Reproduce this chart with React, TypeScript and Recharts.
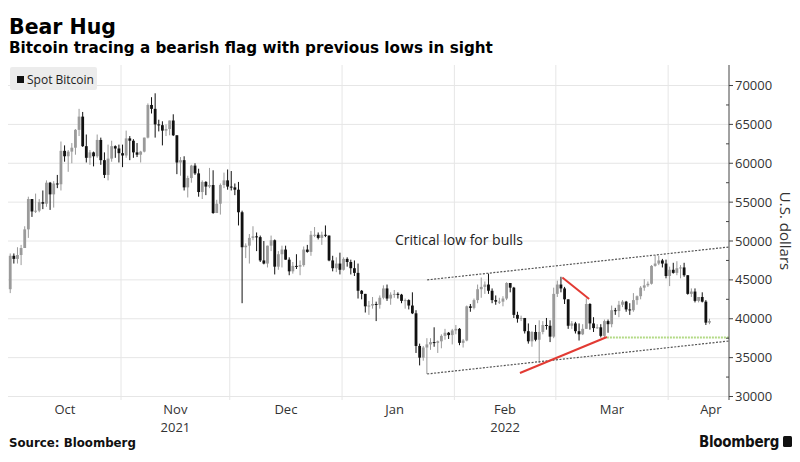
import React from "react";
import {
  ComposedChart,
  Bar,
  XAxis,
  YAxis,
  CartesianGrid,
  ReferenceLine,
  ReferenceDot,
} from "recharts";

// daily candles [open, high, low, close], starting Oct 1 2021
const OCT_2021 = [
  [43800, 48400, 43300, 48100], [48100, 48400, 47100, 47700], [47700, 49200, 47100, 48200],
  [48200, 49500, 46900, 49100], [49100, 51900, 49100, 51500], [51500, 55700, 50400, 55400],
  [55400, 55400, 53100, 53800], [53800, 56100, 53600, 53900], [53900, 55400, 53700, 55000],
  [55000, 56500, 54100, 54800], [54800, 57800, 54400, 57500], [57500, 57600, 54000, 56000],
  [56000, 57700, 54300, 57400], [57400, 58500, 56800, 57300], [57300, 62800, 56500, 61600],
  [61600, 62300, 60200, 60900], [60900, 61700, 58900, 61500], [61500, 62600, 60000, 62000],
  [62000, 64400, 61100, 64300], [64300, 67000, 63500, 66000], [66000, 66600, 62100, 62200],
  [62200, 63700, 60100, 60700], [60700, 61700, 59800, 61400], [61400, 61500, 59600, 60900],
  [60900, 63700, 60700, 63000], [63000, 63300, 59800, 60400], [60400, 61400, 58100, 58500],
  [58500, 62400, 57800, 60600], [60600, 62900, 60200, 62200], [62200, 62300, 60700, 61900],
  [61900, 62400, 60100, 61300],
];
const NOV_2021 = [
  [61300, 62400, 59500, 61000], [61000, 64200, 60700, 63200], [63200, 63500, 60400, 62900],
  [62900, 63100, 60700, 61400], [61400, 62600, 60800, 61100], [61100, 61600, 60100, 61500],
  [61500, 63300, 61400, 63300], [63300, 67700, 63200, 67500], [67500, 68500, 66400, 67000],
  [67000, 69000, 63300, 65000], [65000, 65600, 64100, 64900], [64900, 65400, 62300, 64200],
  [64200, 65000, 63500, 64400], [64400, 65500, 63600, 65500], [65500, 66300, 63500, 63600],
  [63600, 63600, 58600, 60100], [60100, 60800, 58400, 60400], [60400, 60900, 56500, 56900],
  [56900, 58400, 55600, 58100], [58100, 59800, 57500, 59700], [59700, 60000, 58500, 58700],
  [58700, 59300, 55700, 56300], [56300, 57800, 55400, 57600], [57600, 57700, 55900, 57000],
  [57000, 59400, 56800, 57200], [57200, 59100, 53500, 53600], [53600, 55300, 53600, 54800],
  [54800, 57400, 53400, 57200], [57200, 58800, 56800, 57800], [57800, 59200, 56600, 57000],
];
const DEC_2021 = [
  [57000, 59000, 56500, 56900], [56900, 57400, 55900, 56600], [56600, 57600, 52000, 53700],
  [53700, 53900, 42000, 49200], [49200, 49700, 47800, 49400], [49400, 50900, 47100, 50400],
  [50400, 51900, 50100, 50600], [50600, 51100, 48700, 50500], [50500, 50700, 47300, 47500],
  [47500, 50000, 47000, 47100], [47100, 49400, 46600, 49400], [49400, 50700, 48700, 50100],
  [50100, 50200, 45700, 46700], [46700, 48700, 46300, 48300], [48300, 49400, 46600, 48900],
  [48900, 49400, 47600, 47600], [47600, 47900, 45600, 46100], [46100, 47300, 45800, 46800],
  [46800, 48300, 46400, 46700], [46700, 47500, 45600, 46900], [46900, 49300, 46700, 48900],
  [48900, 49500, 48500, 48600], [48600, 51300, 48100, 50800], [50800, 51800, 50500, 50800],
  [50800, 51100, 50200, 50400], [50400, 51200, 49500, 50800], [50800, 52000, 50500, 50700],
  [50700, 50700, 47400, 47500], [47500, 48100, 46100, 46500], [46500, 47900, 46000, 47100],
  [47100, 48500, 45700, 46300],
];
const JAN_2022 = [
  [46300, 47900, 46200, 47700], [47700, 47900, 46700, 47300], [47300, 47600, 45700, 46500],
  [46500, 47500, 45500, 45900], [45900, 47100, 42600, 43600], [43600, 43700, 42500, 43200],
  [43200, 43200, 40800, 41600], [41600, 42300, 40500, 41700], [41700, 42800, 41300, 41900],
  [41900, 42200, 39700, 41800], [41800, 43000, 41300, 42700], [42700, 44300, 42500, 43900],
  [43900, 44400, 42300, 42600], [42600, 43400, 41800, 43100], [43100, 43700, 42700, 43200],
  [43200, 43400, 42600, 43100], [43100, 43200, 42000, 42300], [42300, 42600, 41300, 42400],
  [42400, 42500, 41200, 41700], [41700, 43400, 40600, 40700], [40700, 41100, 35600, 36500],
  [36500, 36800, 34000, 35000], [35000, 36500, 34600, 36300], [36300, 37500, 32900, 36700],
  [36700, 37500, 36000, 37000], [37000, 38900, 36400, 36900], [36900, 37200, 35600, 37100],
  [37100, 38000, 36200, 37800], [37800, 38700, 37300, 38200], [38200, 38300, 37400, 37900],
  [37900, 38700, 36700, 38500],
];
const FEB_2022 = [
  [38500, 39200, 38000, 38700], [38700, 38800, 36600, 36900], [36900, 37400, 36300, 37200],
  [37200, 41700, 37100, 41600], [41600, 41900, 40900, 41400], [41400, 42600, 41200, 42400],
  [42400, 44400, 42000, 43800], [43800, 45300, 42700, 44100], [44100, 44800, 43200, 44400],
  [44400, 45800, 43200, 43600], [43600, 43900, 42000, 42400], [42400, 43000, 41800, 42200],
  [42200, 42700, 41900, 42200], [42200, 42900, 41600, 42600], [42600, 44700, 42400, 44600],
  [44600, 44600, 43400, 44000], [44000, 44100, 40100, 40500], [40500, 40900, 39500, 40000],
  [40000, 40400, 39700, 40100], [40100, 40100, 38100, 38400], [38400, 39400, 36800, 37100],
  [37100, 38400, 36400, 38300], [38300, 39200, 37100, 37300], [37300, 39800, 34300, 38300],
  [38300, 39700, 38000, 39200], [39200, 40100, 38600, 39100], [39100, 39800, 37000, 37700],
  [37700, 44000, 37500, 43200],
];
const MAR_2022 = [
  [43200, 44900, 42800, 44400], [44400, 45400, 43400, 43900], [43900, 44100, 41900, 42500],
  [42500, 42500, 38700, 39100], [39100, 39700, 38700, 39400], [39400, 39600, 38100, 38400],
  [38400, 39400, 37200, 38000], [38000, 39300, 37900, 38700], [38700, 42600, 38700, 41900],
  [41900, 42000, 38600, 39400], [39400, 40200, 38300, 38800], [38800, 39300, 38700, 38900],
  [38900, 39300, 37600, 37800], [37800, 39900, 37600, 39700], [39700, 39900, 38200, 39300],
  [39300, 41700, 38900, 41100], [41100, 41400, 40500, 41000], [41000, 42300, 40200, 41800],
  [41800, 42400, 41500, 42200], [42200, 42300, 40900, 41200], [41200, 42000, 40500, 41100],
  [41100, 43300, 40900, 42400], [42400, 43000, 41800, 42900], [42900, 44200, 42500, 44000],
  [44000, 45100, 43600, 44300], [44300, 44800, 44100, 44500], [44500, 46900, 44400, 46800],
  [46800, 48200, 46700, 47100], [47100, 48100, 46900, 47500], [47500, 47700, 46600, 47100],
  [47100, 47600, 45200, 45500],
];
const APR_2022 = [
  [45500, 46700, 44200, 46300], [46300, 47200, 45800, 45900], [45900, 47400, 45600, 46500],
  [46500, 46900, 45200, 46600], [46600, 47200, 45400, 45600], [45600, 45600, 43100, 43200],
  [43200, 43900, 42800, 43500], [43500, 43900, 42100, 42300], [42300, 42800, 42100, 42800],
  [42800, 43400, 42100, 42200], [42200, 42400, 39200, 39500], [39500, 40000, 39300, 39700],
];

const MONTHS = [OCT_2021, NOV_2021, DEC_2021, JAN_2022, FEB_2022, MAR_2022, APR_2022];

// x-axis: day index from Oct 1 2021
const MONTH_LABELS = ["Oct", "Nov", "Dec", "Jan", "Feb", "Mar", "Apr"];
const YEAR_LABELS = ["", "2021", "", "", "2022", "", ""];
const MONTH_LABEL_DAYS = [15, 45.5, 76, 106, 136.5, 166, 193.3];
const MONTH_STARTS = [30.5, 60.5, 91.5, 122.5, 150.5, 181.5];
const PRICE_TICKS = [
  30000, 32500, 35000, 37500, 40000, 42500, 45000, 47500, 50000,
  52500, 55000, 57500, 60000, 62500, 65000, 67500, 70000,
];
const PRICE_GRID = [30000, 35000, 40000, 45000, 50000, 55000, 60000, 65000, 70000];

// annotations, [day, price]
const UPPER_CHANNEL = [[115, 45000], [198.3, 49230]];
const LOWER_CHANNEL = [[115, 32900], [198.3, 37140]];
const RED_DOWN = [[152.3, 45300], [159.7, 42550]];
const RED_UP = [[140.6, 33020], [164.6, 37650]];
const CRITICAL_LOW = [[164.6, 37590], [198.3, 37590]];
const CRITICAL_LABEL = [106.1, 50130];

const candles = MONTHS.flat().map(([o, h, l, c], i) => ({ day: i, o, h, l, c }));

const SANS = "'Open Sans', 'DejaVu Sans', sans-serif";
const BOLD = "'DejaVu Sans', sans-serif";

function Candle(props: any) {
  const { x, y, width, height, payload } = props;
  if (!payload) return null;
  const { o, h, l, c } = payload;
  const top = Math.min(y, y + height);
  const span = Math.abs(height);
  const toY = (v: number) => (h === l ? top : top + ((h - v) / (h - l)) * span);
  const up = c >= o;
  const color = up ? "#9a9a9a" : "#111";
  const cx = x + width / 2;
  const bTop = toY(Math.max(o, c));
  const bBot = toY(Math.min(o, c));
  return (
    <g>
      <line x1={cx} x2={cx} y1={top} y2={top + span} stroke={color} strokeWidth={1} />
      <rect x={cx - 1.4} y={bTop} width={2.8} height={Math.max(1, bBot - bTop)} fill={color} />
    </g>
  );
}

function PriceTick({ x, y, payload }: any) {
  const major = payload.value % 5000 === 0;
  if (!major) return <line x1={x - 3} x2={x} y1={y} y2={y} stroke="#444" />;
  return (
    <g>
      <line x1={x} x2={x + 4} y1={y} y2={y} stroke="#444" />
      <text x={x + 6} y={y} dy={4.5} fontSize={13} fill="#333" fontFamily={SANS}>
        {payload.value}
      </text>
    </g>
  );
}

function MonthTick({ x, y, payload }: any) {
  const i = MONTH_LABEL_DAYS.indexOf(payload.value);
  return (
    <g fontFamily={SANS} fontSize={13} fill="#333" textAnchor="middle">
      <text x={x} y={y + 14}>{MONTH_LABELS[i]}</text>
      {YEAR_LABELS[i] && <text x={x} y={y + 32}>{YEAR_LABELS[i]}</text>}
    </g>
  );
}

const seg = (p: number[][]) => p.map(([x, y]) => ({ x, y }));

export default function App() {
  return (
    <div style={{ position: "absolute", left: 0, top: 0, width: 800, height: 462, background: "#fff" }}>
      <ComposedChart
        width={800}
        height={462}
        data={candles}
        margin={{ top: 65, right: 11, bottom: 22, left: 8 }}
      >
        <CartesianGrid
          stroke="#e6e6e6"
          horizontalValues={PRICE_GRID}
          verticalValues={MONTH_STARTS}
        />
        <XAxis
          dataKey="day"
          type="number"
          domain={[-0.7, 198.3]}
          allowDataOverflow
          ticks={MONTH_LABEL_DAYS}
          interval={0}
          tick={<MonthTick />}
          tickSize={0}
          tickMargin={0}
          axisLine={false}
          tickLine={false}
          height={40}
        />
        <YAxis
          orientation="right"
          type="number"
          domain={[29550, 72640]}
          allowDataOverflow
          ticks={PRICE_TICKS}
          interval={0}
          tick={<PriceTick />}
          tickSize={0}
          tickMargin={0}
          tickLine={false}
          axisLine={{ stroke: "#444" }}
          width={60}
        />
        <Bar
          dataKey={(d: any) => [d.l, d.h]}
          barSize={3}
          shape={<Candle />}
          isAnimationActive={false}
        />
        <ReferenceLine segment={seg(UPPER_CHANNEL)} stroke="#555" strokeDasharray="2 1.5" strokeWidth={1.2} />
        <ReferenceLine segment={seg(LOWER_CHANNEL)} stroke="#555" strokeDasharray="2 1.5" strokeWidth={1.2} />
        <ReferenceLine segment={seg(CRITICAL_LOW)} stroke="#b3da86" strokeDasharray="2 1" strokeWidth={1.8} />
        <ReferenceLine segment={seg(RED_DOWN)} stroke="#e23a33" strokeWidth={2} />
        <ReferenceLine segment={seg(RED_UP)} stroke="#e23a33" strokeWidth={2} />
        <ReferenceDot
          x={CRITICAL_LABEL[0]}
          y={CRITICAL_LABEL[1]}
          r={0}
          shape={(p: any) => (
            <text x={p.cx} y={p.cy} dy={5} fontSize={14} fill="#222" fontFamily={SANS}>
              Critical low for bulls
            </text>
          )}
        />
      </ComposedChart>
      <svg
        width={800}
        height={462}
        style={{ position: "absolute", left: 0, top: 0, pointerEvents: "none" }}
      >
        <text x={9} y={34} fontSize={20.5} fontWeight="bold" fontFamily={BOLD} fill="#000">
          Bear Hug
        </text>
        <text x={9} y={53} fontSize={15.2} fontWeight="bold" fontFamily={BOLD} fill="#000">
          Bitcoin tracing a bearish flag with previous lows in sight
        </text>
        <rect x={10} y={67} width={87} height={23} rx={2} fill="#ececec" />
        <rect x={17} y={76} width={7} height={7} fill="#111" />
        <text x={27} y={83.5} fontSize={12} fill="#222" fontFamily={SANS}>
          Spot Bitcoin
        </text>
        <text
          transform="translate(780,231) rotate(90)"
          textAnchor="middle"
          fontSize={15}
          fill="#333"
          fontFamily={SANS}
        >
          U.S. dollars
        </text>
        <text x={9} y={447} fontSize={11.8} fontWeight="bold" fontFamily={BOLD} fill="#111">
          Source: Bloomberg
        </text>
        <text x={779} y={447} fontSize={15} fontWeight="bold" textAnchor="end" fontFamily="'DejaVu Sans Condensed', 'DejaVu Sans', sans-serif" fill="#111" letterSpacing={-0.3}>
          Bloomberg
        </text>
        <rect x={783} y={436} width={9} height={11} rx={1.5} fill="#111" />
      </svg>
    </div>
  );
}
